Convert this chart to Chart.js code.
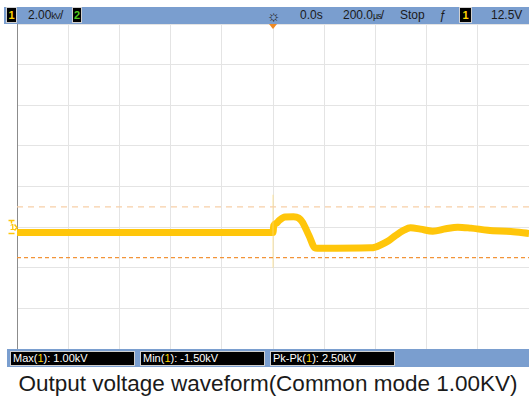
<!DOCTYPE html>
<html>
<head>
<meta charset="utf-8">
<script src="https://cdn.jsdelivr.net/npm/chart.js@4.4.0/dist/chart.umd.min.js"></script>
<style>
  body { margin: 0; background: #fff; width: 529px; height: 400px; position: relative; overflow: hidden;
         font-family: "Liberation Sans", Arial, sans-serif; }
  .bar { position: absolute; background: #7a9ecf; }
  .t { position: absolute; font-size: 12px; color: #1a1a1a; line-height: 17px; top: 7px; white-space: nowrap; }
  .chip { position: absolute; background: #000; border: 1px solid #d0d0d0; box-sizing: border-box;
          font-size: 11px; line-height: 13px; text-align: center; font-weight: bold; }
  .meas { position: absolute; top: 351px; height: 15px; background: #000; border: 1px solid #cfcfcf;
          box-sizing: border-box; color: #fff; font-size: 11px; line-height: 13px; padding-left: 2px; white-space: nowrap; }
  .y1 { color: #ffd400; }
  .u { font-size: 9px; letter-spacing: -1px; }
  #wrap { position: absolute; left: 0; top: 24px; width: 529px; height: 325px; }
  #caption { position: absolute; left: 0; width: 536px; top: 371px; text-align: center; font-size: 22.5px; color: #1a1a1a; }
  #gnd { position: absolute; left: 10px; top: 222px; font-size: 9px; line-height: 10px; color: #ffc60a; font-weight: bold; }
</style>
</head>
<body>
<div class="bar" style="left:4px; top:7px; width:525px; height:17px;"></div>
<div class="chip y1" style="left:6px; top:7px; width:11px; height:16px; line-height:14px;">1</div>
<div class="t" style="left:28px;">2.00<span class="u">kV</span>/</div>
<div class="chip" style="left:72px; top:7px; width:10px; height:16px; line-height:14px; color:#52c81e;">2</div>
<div class="t" style="left:267px; font-size:15px;">☼</div>
<div class="t" style="left:300px;">0.0s</div>
<div class="t" style="left:343px;">200.0<span class="u">µs</span>/</div>
<div class="t" style="left:400px;">Stop</div>
<div class="t" style="left:439px; font-style:italic;">ƒ</div>
<div class="chip y1" style="left:459px; top:7px; width:13px; height:16px; line-height:14px;">1</div>
<div class="t" style="left:491px;">12.5V</div>

<div id="wrap"><canvas id="scope"></canvas></div>
<div id="gnd">1</div>

<div class="bar" style="left:7px; top:349px; width:522px; height:18px;"></div>
<div class="meas" style="left:10px; width:125px;">Max(<span class="y1">1</span>): 1.00kV</div>
<div class="meas" style="left:140px; width:125px;">Min(<span class="y1">1</span>): -1.50kV</div>
<div class="meas" style="left:270px; width:125px;">Pk-Pk(<span class="y1">1</span>): 2.50kV</div>

<div id="caption">Output voltage waveform(Common mode 1.00KV)</div>

<script>
// time in microseconds, channel 1 in kV (2 kV/div, 200 us/div)
const timeUs  = [-1000, -500, 0, 3, 12, 25, 47, 80, 100, 115, 140, 165, 185, 380, 400, 420, 450, 478, 510, 537, 576, 624, 675, 722, 773, 839, 929, 1000];
const voltsKV = [-0.26, -0.26, -0.26, 0.08, 0.18, 0.34, 0.50, 0.51, 0.45, 0.25, -0.40, -1.03, -1.04, -1.02, -0.98, -0.88, -0.68, -0.42, -0.16, -0.03, -0.10, -0.20, -0.08, 0.00, -0.05, -0.15, -0.22, -0.31];
const spikeTimeUs = [0, 0];
const spikeKV = [1.60, -2.00];
const cursorMaxKV = 1.00;
const cursorMinKV = -1.50;
const xTicks = [-1000, -800, -600, -400, -200, 0, 200, 400, 600, 800, 1000];
const yTicks = [-6, -4, -2, 0, 2, 4, 6, 8, 10];

const pts = (xs, ys) => xs.map((x, i) => ({ x: x, y: ys[i] }));

const markers = {
  id: 'markers',
  afterDraw(chart) {
    const { ctx, chartArea, scales } = chart;
    const x0 = scales.x.getPixelForValue(0);
    ctx.save();
    ctx.fillStyle = '#f08a24';
    ctx.beginPath();
    ctx.moveTo(x0 - 4, chartArea.top);
    ctx.lineTo(x0 + 4, chartArea.top);
    ctx.lineTo(x0, chartArea.top + 5);
    ctx.closePath();
    ctx.fill();
    const yg = Math.round(scales.y.getPixelForValue(0)) + 0.5;
    ctx.strokeStyle = '#ffc60a';
    ctx.lineWidth = 1.5;
    ctx.beginPath();
    ctx.moveTo(8.5, yg - 7);
    ctx.lineTo(14.5, yg - 7);
    ctx.moveTo(11.5, yg - 7);
    ctx.lineTo(11.5, yg - 4);
    ctx.moveTo(8.5, yg + 6);
    ctx.lineTo(14.5, yg + 6);
    ctx.moveTo(14.5, yg - 3);
    ctx.lineTo(17, yg);
    ctx.lineTo(14.5, yg + 3);
    ctx.stroke();
    ctx.restore();
  }
};

new Chart(document.getElementById('scope').getContext('2d'), {
  type: 'line',
  data: {
    datasets: [
      {
        data: pts([-1000, 1000], [cursorMaxKV, cursorMaxKV]),
        borderColor: '#f8cfa8', borderWidth: 1.2, borderDash: [6, 5], pointRadius: 0
      },
      {
        data: pts([-1000, 1000], [cursorMinKV, cursorMinKV]),
        borderColor: '#f29438', borderWidth: 1.3, borderDash: [4, 3], pointRadius: 0
      },
      {
        data: pts(spikeTimeUs, spikeKV),
        borderColor: 'rgba(255, 222, 120, 0.35)', borderWidth: 2, pointRadius: 0
      },
      {
        data: pts(timeUs, voltsKV),
        borderColor: '#ffc60a', borderWidth: 7, pointRadius: 0,
        cubicInterpolationMode: 'monotone'
      }
    ]
  },
  options: {
    responsive: true,
    maintainAspectRatio: false,
    animation: false,
    layout: { padding: { left: 17, right: 0, top: 0, bottom: 0 } },
    plugins: { legend: { display: false }, tooltip: { enabled: false } },
    scales: {
      x: {
        type: 'linear', min: -1000, max: 1000,
        afterBuildTicks: s => { s.ticks = xTicks.map(v => ({ value: v })); },
        ticks: { display: false },
        grid: { color: '#e4e4e4', drawTicks: false },
        border: { display: false }
      },
      y: {
        min: -6, max: 10,
        afterBuildTicks: s => { s.ticks = yTicks.map(v => ({ value: v })); },
        ticks: { display: false },
        grid: { color: '#e4e4e4', drawTicks: false },
        border: { display: true, color: '#8c8c8c', width: 1 }
      }
    }
  },
  plugins: [markers]
});
</script>
</body>
</html>
